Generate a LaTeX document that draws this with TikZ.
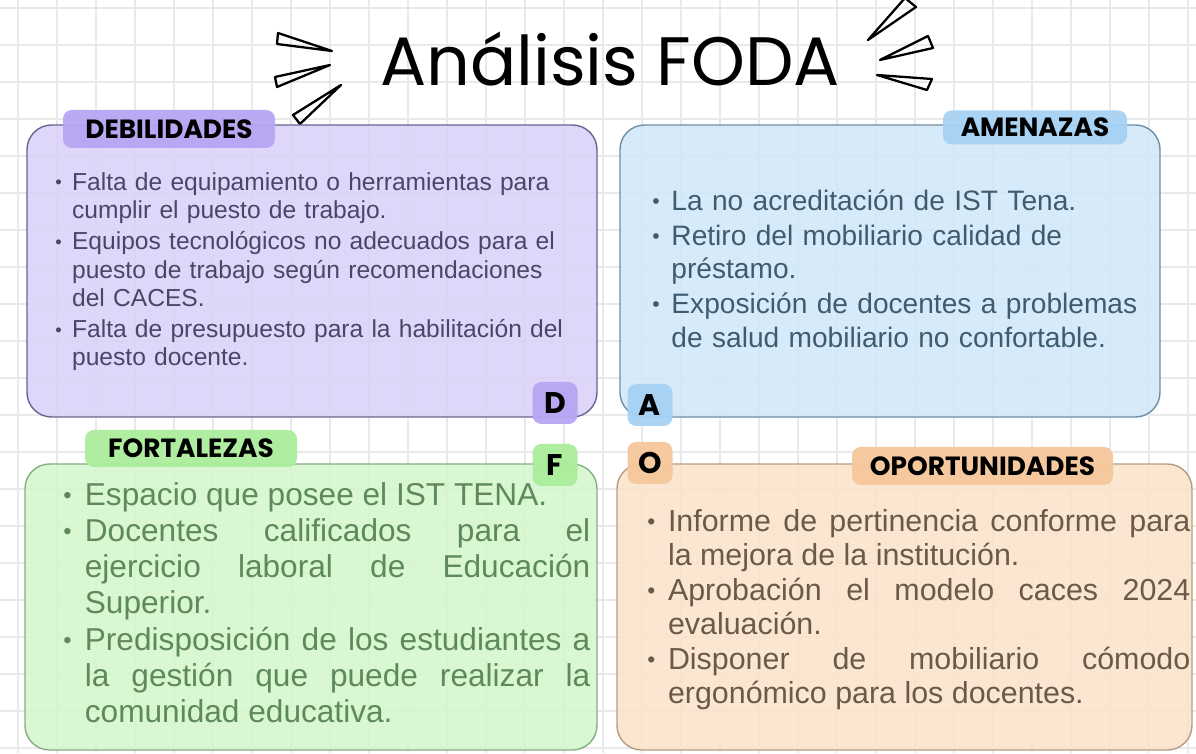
\documentclass[tikz,border=0pt]{standalone}
\usepackage{fontspec}
\setmainfont{Liberation Sans}
\newfontfamily\handfont{Poppins}
\definecolor{LILAC}{HTML}{DAD1F8}
\definecolor{LILACLINE}{HTML}{6B6390}
\definecolor{LILACTAG}{HTML}{B7A5F3}
\definecolor{DTXT}{HTML}{4B4668}
\definecolor{SKY}{HTML}{D1E7FA}
\definecolor{SKYLINE}{HTML}{6E8FA6}
\definecolor{SKYTAG}{HTML}{A6D1F4}
\definecolor{ATXT}{HTML}{3F5B70}
\definecolor{MINT}{HTML}{D4F6CC}
\definecolor{MINTLINE}{HTML}{88AC85}
\definecolor{MINTTAG}{HTML}{ABEE9C}
\definecolor{FTXT}{HTML}{5E8A5A}
\definecolor{PEACH}{HTML}{FBE2CA}
\definecolor{PEACHLINE}{HTML}{B89C80}
\definecolor{PEACHTAG}{HTML}{F6C79C}
\definecolor{OTXT}{HTML}{6B5A48}
\definecolor{GRIDC}{HTML}{E9E9E9}
\newcommand{\itm}[1]{\hangindent=0.68em\hangafter=1\noindent\hbox to 0.68em{\raisebox{0.12ex}{\scalebox{0.75}{\textbullet}}\hss}#1\par}
\usetikzlibrary{positioning,calc}

\begin{document}
\begin{tikzpicture}
[quad/.style={rectangle, rounded corners=14pt, draw, line width=0.8pt, fill opacity=0.85, text opacity=1},
tag/.style={rectangle, rounded corners=5pt, inner sep=0pt, fill opacity=0.95, text opacity=1, font=\handfont\bfseries\fontsize{15}{15}\selectfont},
letter/.style={tag, minimum width=0.9cm, minimum height=0.84cm, font=\handfont\bfseries\fontsize{17}{17}\selectfont},
body/.style={anchor=north west, inner sep=0pt},
wedge/.style={line width=1.3pt, line join=round}]
\useasboundingbox (0,0) rectangle (23.92,15.06);
\fill[white] (0,0) rectangle (23.92,15.06);
% paper grid
\foreach \x in {0,...,30} \draw[GRIDC, line width=0.6pt] (0.36+0.78*\x,0) -- ++(0,15.06);
\foreach \y in {0,...,20} \draw[GRIDC, line width=0.6pt] (0,14.9-0.74*\y) -- ++(23.92,0);

% title and strokes
\node[font=\handfont\fontsize{39}{39}\selectfont] (title) at (12.2,13.88) {Análisis FODA};
\draw[wedge] (5.56,14.4) -- (5.54,14.18) -- (6.64,14.04) -- cycle;
\draw[wedge] (5.5,13.52) -- (5.54,13.32) -- (6.6,13.76) -- cycle;
\draw[wedge] (5.86,12.76) -- (6.0,12.58) -- (6.82,13.36) -- cycle;
\begin{scope}
\clip (0,0) rectangle (23.92,15.06);
\draw[wedge] (18.1,15.1) -- (18.32,14.92) -- (17.36,14.26) -- cycle;
\end{scope}
\draw[wedge] (18.56,14.34) -- (18.66,14.1) -- (17.6,13.86) -- cycle;
\draw[wedge] (17.54,13.56) -- (18.64,13.48) -- (18.54,13.26) -- cycle;

% the four quadrants
\node[quad, draw=LILACLINE, fill=LILAC, minimum width=11.4cm, minimum height=5.84cm] (Dbox) at (6.24,9.64) {};
\node[quad, draw=SKYLINE, fill=SKY, minimum width=10.8cm, minimum height=5.84cm] (Abox) at (17.8,9.64) {};
\node[quad, draw=MINTLINE, fill=MINT, minimum width=11.44cm, minimum height=5.72cm] (Fbox) at (6.22,2.92) {};
\node[quad, draw=PEACHLINE, fill=PEACH, minimum width=11.5cm, minimum height=5.72cm] (Obox) at (18.09,2.92) {};

\node[tag, fill=LILACTAG, minimum width=4.24cm, minimum height=0.76cm] (Dtag) at (3.38,12.48) {DEBILIDADES};
\node[tag, fill=SKYTAG, minimum width=3.68cm, minimum height=0.68cm] (Atag) at (20.7,12.51) {AMENAZAS};
\node[tag, fill=MINTTAG, minimum width=4.24cm, minimum height=0.74cm] (Ftag) at (3.82,6.09) {FORTALEZAS};
\node[tag, fill=PEACHTAG, minimum width=5.22cm, minimum height=0.76cm] (Otag) at (19.65,5.74) {OPORTUNIDADES};

\node[letter, fill=LILACTAG] (D) at (11.1,7.0) {D};
\node[letter, fill=SKYTAG] (A) at (13.0,6.96) {A};
\node[letter, fill=MINTTAG] (F) at (11.1,5.76) {F};
\node[letter, fill=PEACHTAG] (O) at (13.0,5.8) {O};

% bullet texts
\node[body, text width=10.2cm, align=left, text=DTXT,
font=\fontsize{14}{16}\selectfont\setlength{\parskip}{2pt}] (Dtxt) at (1.1,11.62)
{\itm{Falta de equipamiento o herramientas para\linebreak cumplir el puesto de trabajo.}
\itm{Equipos tecnológicos no adecuados para el\linebreak puesto de trabajo según recomendaciones\linebreak del CACES.}
\itm{Falta de presupuesto para la habilitación del\linebreak puesto docente.}};
\node[body, text width=9.86cm, align=left, text=ATXT,
font=\fontsize{16}{19}\selectfont\setlength{\parskip}{1pt}] (Atxt) at (13.04,11.28)
{\itm{La no acreditación de IST Tena.}
\itm{Retiro del mobiliario calidad de\linebreak préstamo.}
\itm{Exposición de docentes a problemas\linebreak de salud mobiliario no confortable.}};
\node[body, text width=10.54cm, align=justify, text=FTXT,
font=\fontsize{18}{20.6}\selectfont] (Ftxt) at (1.26,5.42)
{\itm{Espacio que posee el IST TENA.}
\itm{Docentes calificados para el\linebreak ejercicio laboral de Educación\linebreak Superior.}
\itm{Predisposición de los estudiantes a\linebreak la gestión que puede realizar la\linebreak comunidad educativa.}};
\node[body, text width=10.86cm, align=justify, text=OTXT,
font=\fontsize{17.3}{19.6}\selectfont] (Otxt) at (12.94,4.88)
{\itm{Informe de pertinencia conforme para\linebreak la mejora de la institución.}
\itm{Aprobación el modelo caces 2024\linebreak evaluación.}
\itm{Disponer de mobiliario cómodo\linebreak ergonómico para los docentes.}};
\end{tikzpicture}
\end{document}
